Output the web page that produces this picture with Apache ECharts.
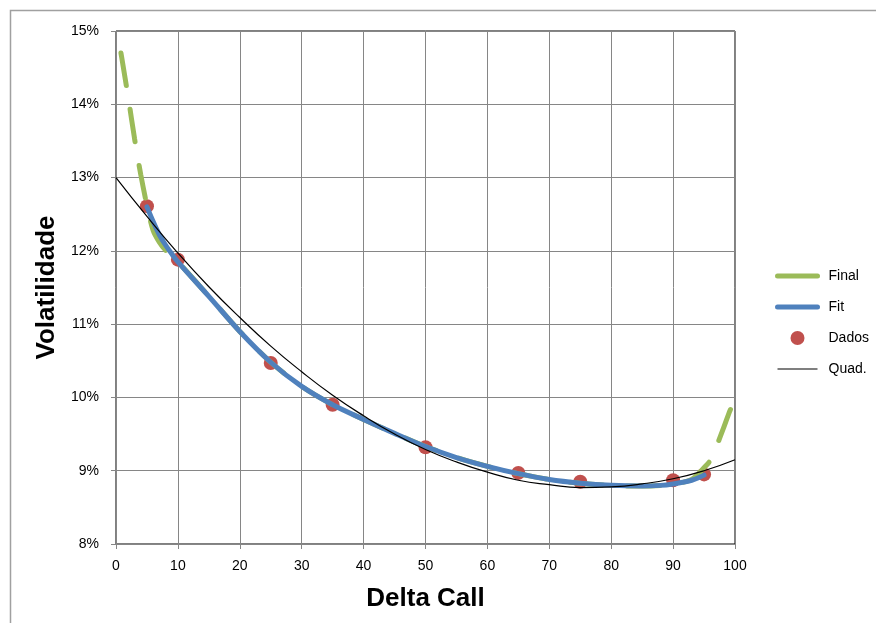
<!DOCTYPE html>
<html style="height: 100%">
<head>
<meta charset="utf-8">
<script src="https://cdn.jsdelivr.net/npm/echarts@6/dist/echarts.min.js"></script>
</head>
<body style="height: 100%; margin: 0; background: #fff">
<div id="container" style="width: 876px; height: 623px"></div>
<script type="text/javascript">
// values (x = delta, y = volatility in %)
var finalX = [0.8, 1, 2, 3, 4, 5, 6, 7, 8, 9, 10, 15, 20, 25, 30, 35, 40, 45, 50, 55, 60, 65, 70, 75, 80, 85, 88, 90, 91, 92, 93, 94, 95, 96, 97, 98, 99, 99.5];
var finalY = [14.70, 14.60, 14.08, 13.53, 13.04, 12.62, 12.28, 12.12, 12.01, 11.93, 11.85, 11.38, 10.90, 10.48, 10.15, 9.90, 9.70, 9.51, 9.33, 9.18, 9.06, 8.96, 8.88, 8.83, 8.80, 8.79, 8.80, 8.82, 8.83, 8.85, 8.88, 8.95, 9.04, 9.14, 9.33, 9.55, 9.78, 9.88];

var fitX = [5, 6, 7, 8, 9, 10, 15, 20, 25, 30, 35, 40, 45, 50, 55, 60, 65, 70, 75, 80, 85, 88, 90, 92, 93, 94, 95];
var fitY = [12.60, 12.40, 12.22, 12.08, 11.96, 11.85, 11.38, 10.90, 10.48, 10.15, 9.90, 9.70, 9.51, 9.33, 9.18, 9.06, 8.96, 8.88, 8.83, 8.80, 8.79, 8.80, 8.82, 8.85, 8.87, 8.90, 8.94];

var dadosX = [5, 10, 25, 35, 50, 65, 75, 90, 95];
var dadosY = [12.61, 11.88, 10.47, 9.90, 9.32, 8.97, 8.85, 8.87, 8.95];

var quadX = [0, 5, 10, 15, 20, 25, 30, 35, 40, 45, 50, 55, 60, 65, 70, 75, 80, 85, 90, 95, 100];
var quadY = [13.00, 12.47, 11.97, 11.51, 11.09, 10.70, 10.35, 10.03, 9.75, 9.50, 9.29, 9.12, 8.98, 8.87, 8.81, 8.77, 8.78, 8.82, 8.89, 9.00, 9.15];

function pairs(xs, ys) {
    var out = [];
    for (var i = 0; i < xs.length; i++) out.push([xs[i], ys[i]]);
    return out;
}

var gray = '#868686';
var font = 'Liberation Sans';

var myChart = echarts.init(document.getElementById('container'), null, {renderer: 'canvas'});
var option = {
    animation: false,
    backgroundColor: '#fff',
    graphic: [{
        type: 'rect',
        shape: {x: 10.5, y: 10.5, width: 1000, height: 1000},
        style: {fill: 'none', stroke: '#a0a0a0', lineWidth: 1.5},
        silent: true
    }],
    grid: {
        left: 116, right: 141, top: 31, bottom: 79,
        outerBoundsMode: 'none',
        containLabel: false,
        show: true, borderColor: '#000', borderWidth: 1
    },
    legend: {
        orient: 'vertical',
        left: 770,
        top: 264,
        itemWidth: 40,
        itemHeight: 14,
        itemGap: 17,
        textStyle: {fontFamily: font, fontSize: 14, color: '#000', padding: [0, 0, 0, 6]},
        data: [
            {name: 'Final', lineStyle: {type: 'solid', width: 5, cap: 'round'}, itemStyle: {opacity: 0}},
            {name: 'Fit', lineStyle: {width: 5, cap: 'round'}, itemStyle: {opacity: 0}},
            {name: 'Dados'},
            {name: 'Quad.', lineStyle: {width: 1.2, color: '#000'}, itemStyle: {opacity: 0}}
        ]
    },
    xAxis: {
        type: 'value',
        min: 0, max: 100, interval: 10,
        name: 'Delta Call',
        nameLocation: 'middle',
        nameGap: 42,
        nameTextStyle: {fontFamily: 'Liberation Sans', fontWeight: 'bold', fontSize: 26, color: '#000'},
        axisLine: {show: true, onZero: false, lineStyle: {color: gray, width: 1}},
        axisTick: {show: true, length: 5, lineStyle: {color: gray}},
        axisLabel: {fontFamily: font, fontSize: 14, color: '#000', margin: 15},
        splitLine: {show: true, lineStyle: {color: gray, width: 1}}
    },
    yAxis: {
        type: 'value',
        min: 8, max: 15, interval: 1,
        name: 'Volatilidade',
        nameLocation: 'middle',
        nameGap: 46,
        nameTextStyle: {fontFamily: 'Liberation Sans', fontWeight: 'bold', fontSize: 26, color: '#000'},
        axisLine: {show: true, onZero: false, lineStyle: {color: gray, width: 1}},
        axisTick: {show: true, length: 5, lineStyle: {color: gray}},
        axisLabel: {fontFamily: font, fontSize: 14, color: '#000', margin: 17, formatter: '{value}%'},
        splitLine: {show: true, lineStyle: {color: gray, width: 1}}
    },
    series: [
        {
            name: 'Final',
            type: 'line',
            data: pairs(finalX, finalY),
            smooth: 0.3,
            symbol: 'none',
            color: '#9BBB59',
            lineStyle: {color: '#9BBB59', width: 5, type: [33, 24], cap: 'round'}
        },
        {
            name: 'Fit',
            type: 'line',
            data: pairs(fitX, fitY),
            smooth: 0.3,
            symbol: 'none',
            color: '#4F81BD',
            lineStyle: {color: '#4F81BD', width: 5, cap: 'round'}
        },
        {
            name: 'Dados',
            type: 'scatter',
            data: pairs(dadosX, dadosY),
            symbol: 'circle',
            symbolSize: 14,
            itemStyle: {color: '#C0504D', opacity: 1}
        },
        {
            name: 'Quad.',
            type: 'line',
            data: pairs(quadX, quadY),
            smooth: true,
            symbol: 'none',
            color: '#000',
            lineStyle: {color: '#000', width: 1.2}
        }
    ]
};
myChart.setOption(option);
</script>
</body>
</html>
